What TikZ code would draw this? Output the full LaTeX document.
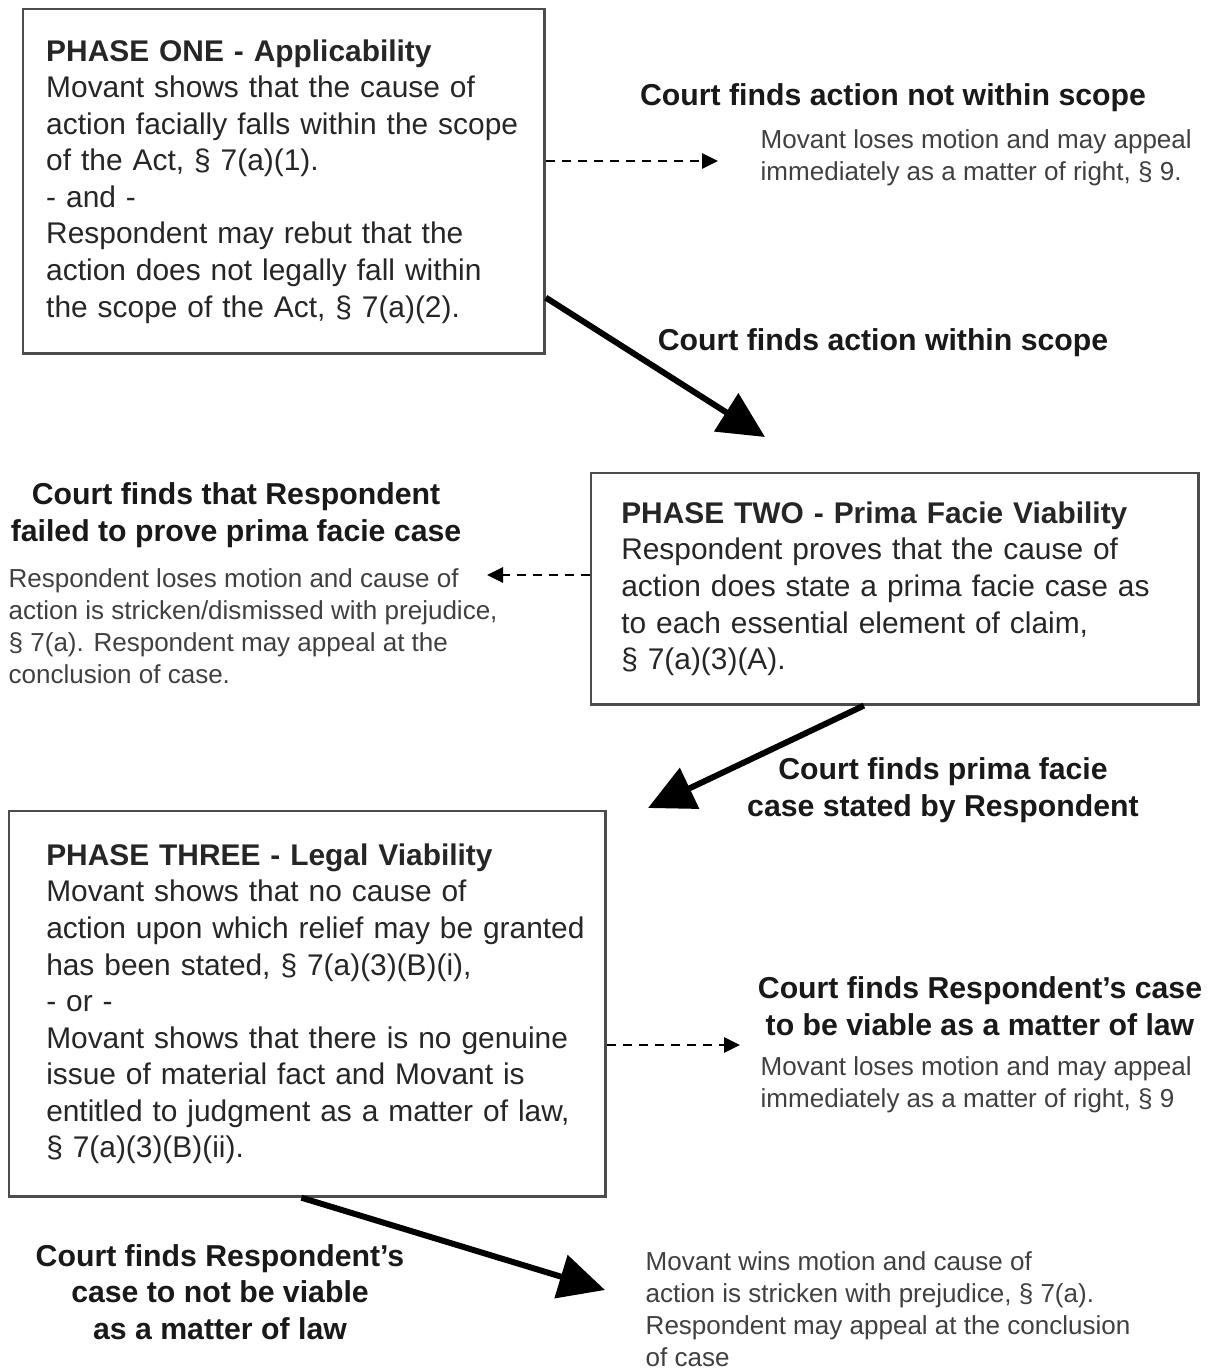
\documentclass[tikz,border=0pt]{standalone}
\usepackage{fontspec}
\setmainfont{Liberation Sans}
\usetikzlibrary{arrows.meta}
\begin{document}
\begin{tikzpicture}[x=0.01cm, y=-0.01cm, font=\fontsize{8.5}{10.4}\selectfont, text=black!85]
        \tikzset{phasebox/.style={draw=black!70, line width=0.7pt, anchor=north west, align=left,
                     execute at begin node={\rightskip=0pt plus 1fil minus 2em}},
                 outcome/.style={font=\fontsize{8.6}{10.4}\selectfont\bfseries, align=center, text=black!90, inner sep=0pt},
                 note/.style={font=\fontsize{7.4}{9.1}\selectfont, align=left, anchor=west, text=black!75, inner sep=0pt},
                 mainarrow/.style={line width=1.7pt, -{Triangle[length=0.46cm, width=0.44cm]}},
                 sidearrow/.style={line width=0.8pt, dash pattern=on 0.09cm off 0.07cm, -{Triangle[length=0.16cm, width=0.15cm]}}}
        \useasboundingbox[fill=white] (0,0) rectangle (1217,1370);
        \node[phasebox, text width=4.75cm, inner xsep=0.23cm, minimum height=3.44cm] (one) at (22,8)
            {\textbf{PHASE ONE - Applicability}\\Movant shows that the cause of\\action facially falls within the scope\\of the Act, § 7(a)(1).\\- and -\\Respondent may rebut that the\\action does not legally fall within\\the scope of the Act, § 7(a)(2).};
        \node[phasebox, text width=5.47cm, inner xsep=0.3cm, minimum height=2.31cm] (two) at (590,472)
            {\textbf{PHASE TWO - Prima Facie Viability}\\Respondent proves that the cause of\\action does state a prima facie case as\\to each essential element of claim,\\§ 7(a)(3)(A).};
        \node[phasebox, text width=5.22cm, inner xsep=0.37cm, minimum height=3.85cm] (three) at (8,810)
            {\textbf{PHASE THREE - Legal Viability}\\Movant shows that no cause of\\action upon which relief may be granted\\has been stated, § 7(a)(3)(B)(i),\\- or -\\Movant shows that there is no genuine\\issue of material fact and Movant is\\entitled to judgment as a matter of law,\\§ 7(a)(3)(B)(ii).};
        \node[outcome] (notscope) at (893,98) {Court finds action not within scope};
        \node[note] (loseone) at (760,158) {Movant loses motion and may appeal\\immediately as a matter of right, § 9.};
        \node[outcome] (inscope) at (883,343) {Court finds action within scope};
        \node[outcome] (failed) at (236,515) {Court finds that Respondent\\failed to prove prima facie case};
        \node[note] (losetwo) at (8,626) {Respondent loses motion and cause of\\action is stricken/dismissed with prejudice,\\§ 7(a). Respondent may appeal at the\\conclusion of case.};
        \node[outcome] (stated) at (943,790) {Court finds prima facie\\case stated by Respondent};
        \node[outcome] (viable) at (980,1006) {Court finds Respondent's case\\to be viable as a matter of law};
        \node[note] (losethree) at (760,1085) {Movant loses motion and may appeal\\immediately as a matter of right, § 9};
        \node[outcome] (notviable) at (220,1292) {Court finds Respondent's\\case to not be viable\\as a matter of law};
        \node[note] (wins) at (645,1309) {Movant wins motion and cause of\\action is stricken with prejudice, § 7(a).\\Respondent may appeal at the conclusion\\of case};
        \coordinate (tipone) at (718,161);
        \coordinate (tiptwo) at (765,437);
        \coordinate (tipthree) at (487,575);
        \coordinate (tipfour) at (648,808);
        \coordinate (tipfive) at (740,1045);
        \coordinate (tipsix) at (605,1290);
        \draw[sidearrow] (one.east |- tipone) -- (tipone);
        \draw[mainarrow] ([yshift=0.57cm]one.south east) -- (tiptwo);
        \draw[sidearrow] (two.west |- tipthree) -- (tipthree);
        \draw[mainarrow] ([xshift=-0.31cm]two.south) -- (tipfour);
        \draw[sidearrow] (three.east |- tipfive) -- (tipfive);
        \draw[mainarrow] ([xshift=-0.06cm]three.south) -- (tipsix);
    \end{tikzpicture}
\end{document}
